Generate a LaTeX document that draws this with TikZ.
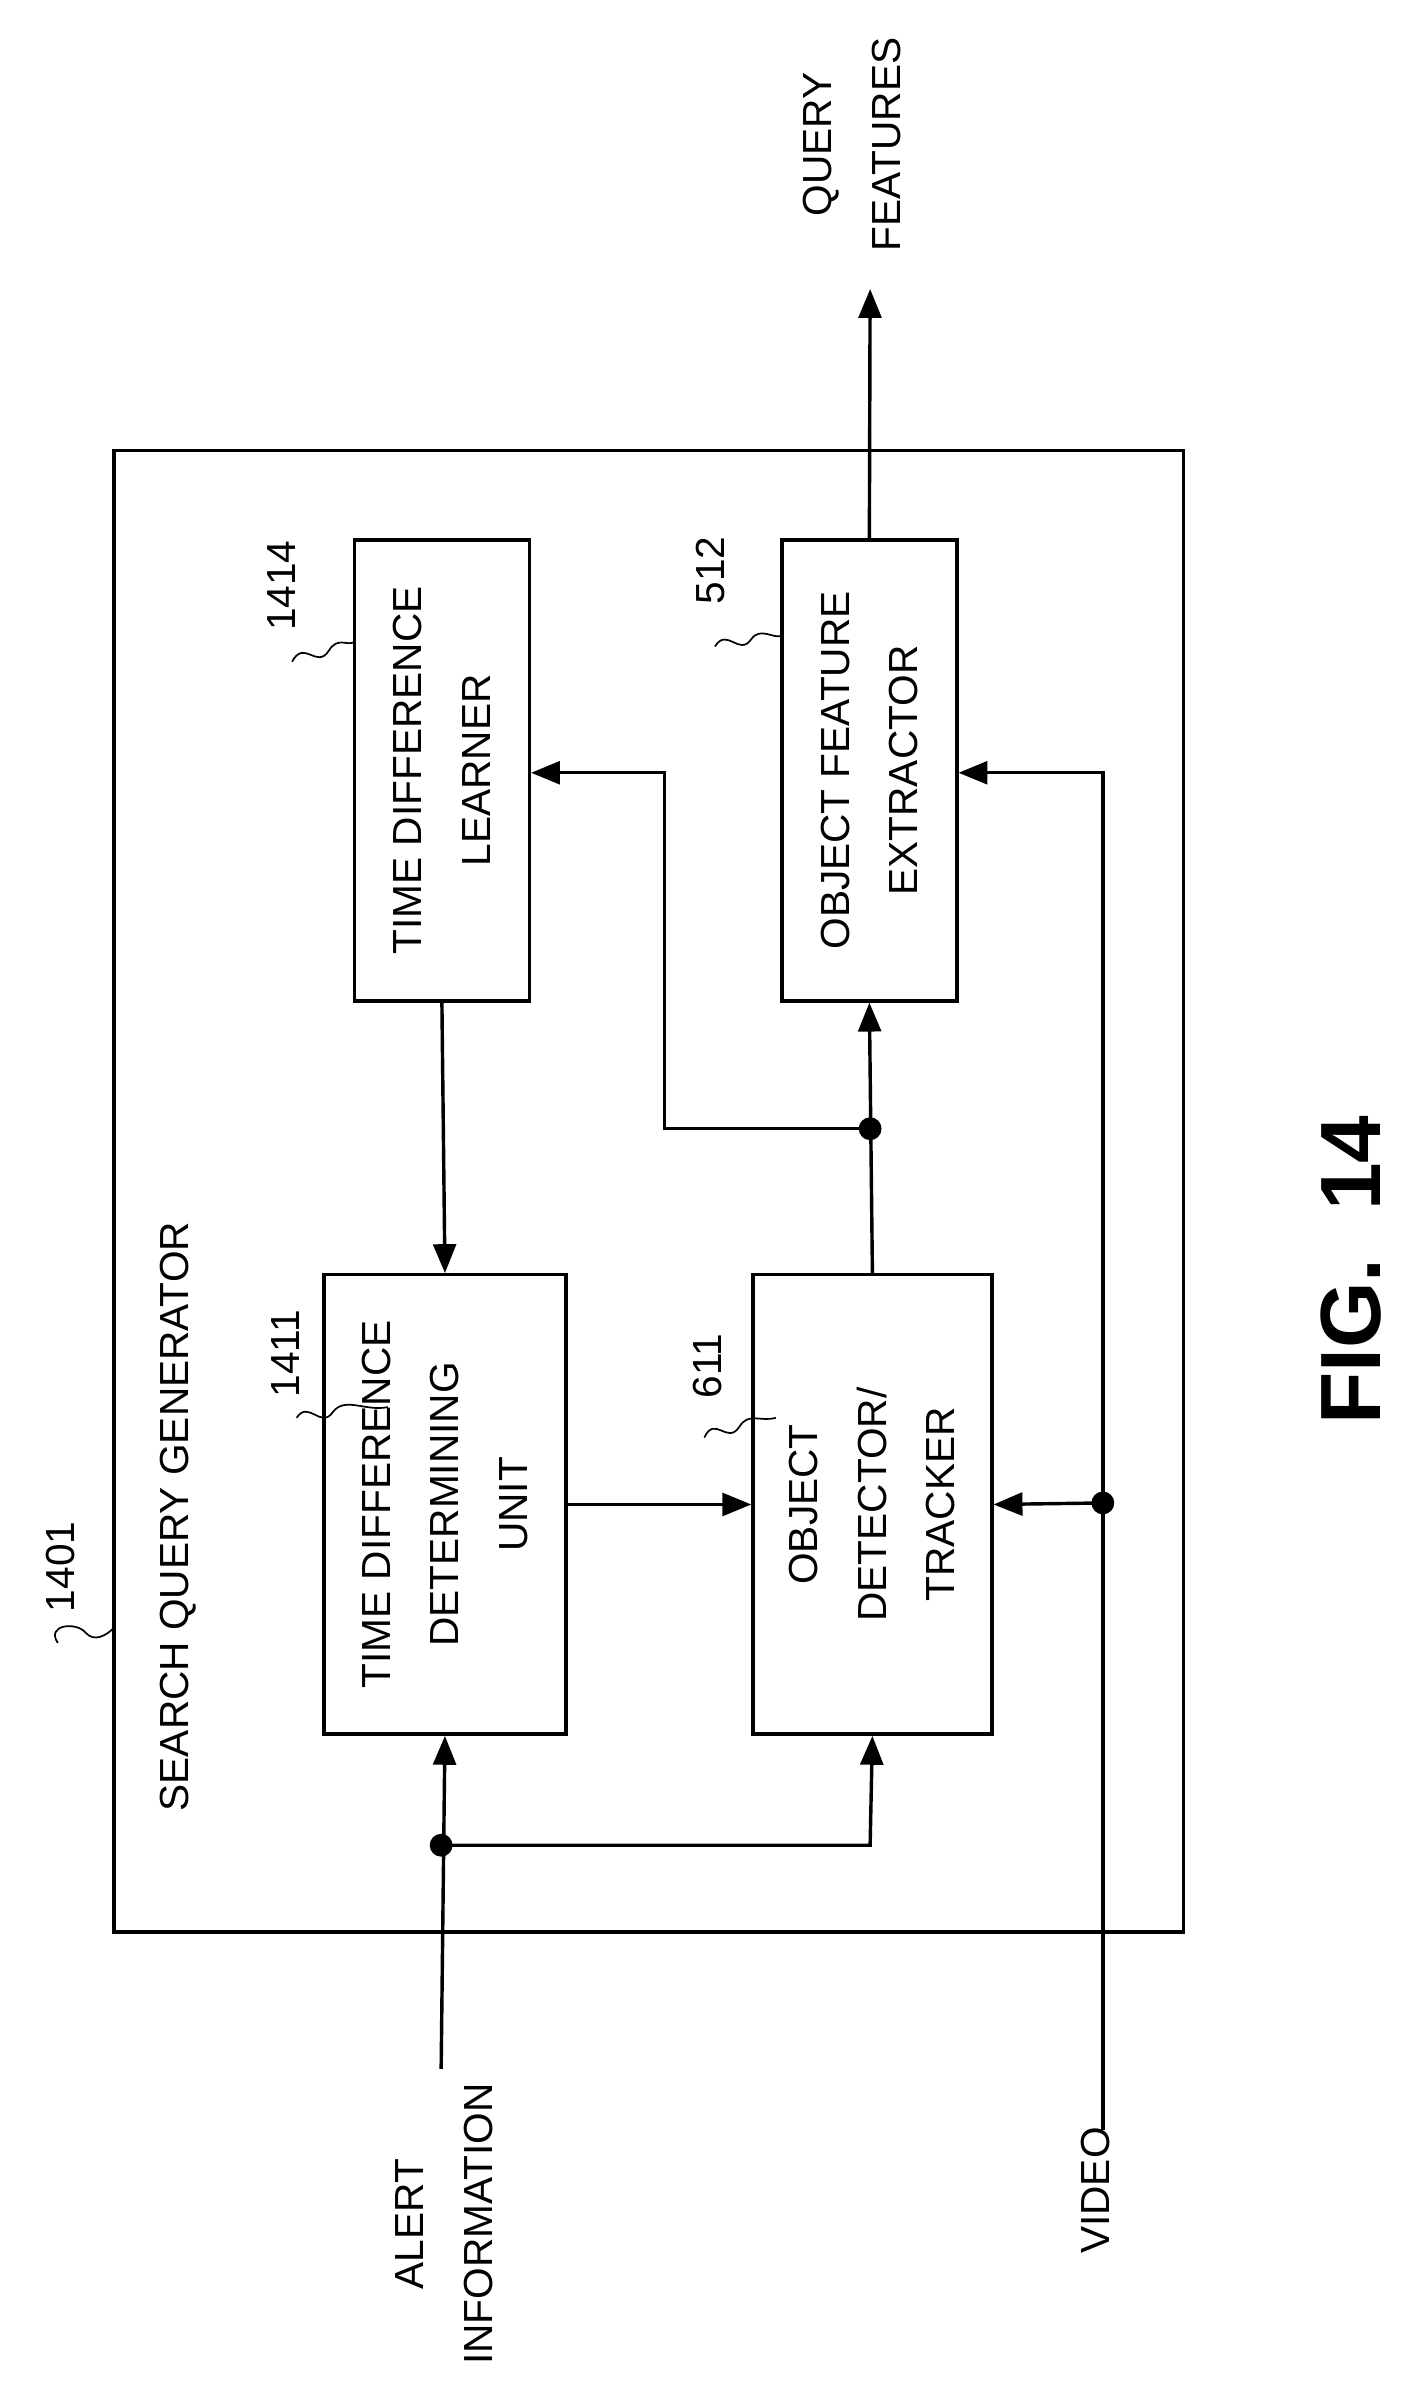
\documentclass[tikz,border=0pt]{standalone}
\usepackage{fontspec}
\setmainfont{Liberation Sans}
\usetikzlibrary{arrows.meta}
\begin{document}
\begin{tikzpicture}[x=0.05cm,y=-0.05cm,
  box/.style={draw,line width=3.2pt},
  ln/.style={line width=3.2pt},
  arr/.style={ln,-{Triangle[length=0.95cm,width=0.75cm]}},
  lbl/.style={rotate=90,align=center,font=\fontsize{38}{64}\selectfont},
  dot/.style={circle,fill,inner sep=0pt,minimum size=0.75cm},
  sq/.style={line width=1.6pt}]
\useasboundingbox (0,0) rectangle (936,1581);
\draw[box] (75,296) rectangle (778,1270);
\node[box,minimum width=5.75cm,minimum height=15.15cm] (tdl) at (290.5,506.5) {};
\node[lbl] at (tdl) {TIME DIFFERENCE\\LEARNER};
\node[box,minimum width=5.75cm,minimum height=15.15cm] (ofe) at (571.5,506.5) {};
\node[lbl] at (ofe) {OBJECT FEATURE\\EXTRACTOR};
\node[box,minimum width=7.95cm,minimum height=15.1cm] (tdd) at (292.5,989) {};
\node[lbl] at (tdd) {TIME DIFFERENCE\\DETERMINING\\UNIT};
\node[box,minimum width=7.85cm,minimum height=15.1cm] (odt) at (573.5,989) {};
\node[lbl] at (odt) {OBJECT\\DETECTOR/\\TRACKER};
\node[lbl,anchor=center] (sqg) at (117,997) {SEARCH QUERY GENERATOR};
\node[lbl] (n1401) at (40,1030) {1401};
\node[lbl] (n1414) at (185,385) {1414};
\node[lbl] (n512) at (467,375) {512};
\node[lbl] (n1411) at (188,890) {1411};
\node[lbl] (n611) at (465,898) {611};
\draw[sq] (38,1080) .. controls (30,1068) and (50,1066) .. (56,1073) .. controls (62,1080) and (70,1075) .. (75,1070);
\draw[sq] (192,435) .. controls (200,420) and (208,440) .. (216,428) .. controls (222,418) and (228,425) .. (233,422);
\draw[sq] (470,425) .. controls (478,412) and (486,432) .. (494,420) .. controls (500,412) and (508,420) .. (514,418);
\draw[sq] (195,932) .. controls (203,920) and (211,940) .. (219,928) .. controls (227,918) and (240,928) .. (255,925);
\draw[sq] (463,945) .. controls (470,930) and (478,950) .. (486,938) .. controls (492,928) and (500,935) .. (510,932);
% connectors
\draw[arr] (tdl.south) -- (tdd.north);
\draw[arr] (tdd.east) -- (odt.west);
\node[dot] (d1) at (572,742) {};
\draw[arr] (odt.north) -- (ofe.south);
\coordinate (b1) at (437,742);
\coordinate (b2) at (437,508);
\draw[arr] (d1.center) -- (b1) -- (b2) -- (tdl.east|-b2);
\coordinate (qf) at (572,190);
\draw[arr] (ofe.north) -- (qf);
\node[lbl,anchor=east] (qft) at (560,10) {};
\node[lbl] (qft) at (560,95) {QUERY\\FEATURES};
\coordinate (al) at (290,1360);
\node[dot] (d2) at (290,1213) {};
\draw[arr] (al) -- (tdd.south);
\coordinate (a1) at (572,1213);
\draw[arr] (d2.center) -- (a1) -- (odt.south);
\node[lbl] (alt) at (292,1462) {ALERT\\INFORMATION};
\coordinate (v0) at (725,1400);
\coordinate (v1) at (725,508);
\node[dot] (d3) at (725,988) {};
\draw[arr] (v0) -- (v1) -- (ofe.east|-v1);
\draw[arr] (d3.center) -- (odt.east);
\node[lbl] (vt) at (720,1440) {VIDEO};
\node[rotate=90,font=\fontsize{80}{90}\selectfont\bfseries] (fig) at (888,835) {FIG.\ \ 14};
\end{tikzpicture}
\end{document}
